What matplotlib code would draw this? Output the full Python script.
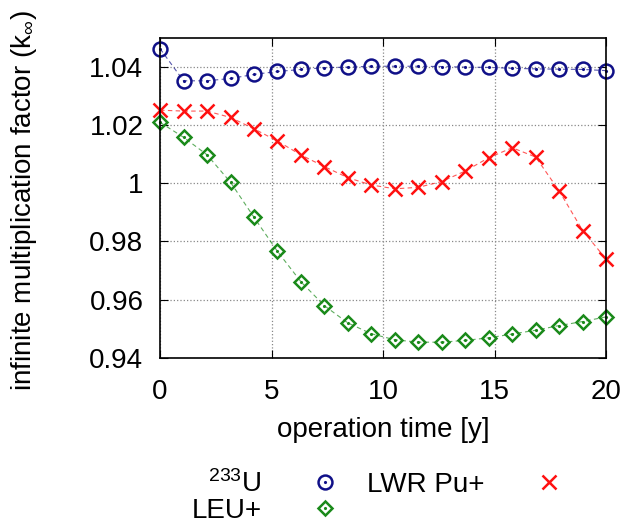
import numpy as np
import matplotlib
matplotlib.use("Agg")
import matplotlib.pyplot as plt
from matplotlib.legend_handler import HandlerTuple
from matplotlib.lines import Line2D

plt.rcParams['font.family'] = ['Liberation Sans', 'DejaVu Sans']
plt.rcParams['mathtext.fontset'] = 'custom'
plt.rcParams['mathtext.rm'] = 'Liberation Sans'
plt.rcParams['mathtext.it'] = 'Liberation Sans'

# data
time_y = [0.0, 1.05, 2.1, 3.16, 4.21, 5.26, 6.32, 7.37, 8.42, 9.47,
          10.53, 11.58, 12.63, 13.68, 14.74, 15.79, 16.84, 17.89, 18.95, 20.0]
u233 = [1.0462, 1.0352, 1.0352, 1.0360, 1.0374, 1.0384, 1.0391, 1.0397, 1.0399, 1.0402,
        1.0402, 1.0402, 1.0401, 1.0399, 1.0398, 1.0395, 1.0393, 1.0392, 1.0391, 1.0387]
lwr_pu = [1.0251, 1.0248, 1.0248, 1.0226, 1.0187, 1.0145, 1.0097, 1.0057, 1.0019, 0.9994,
          0.9981, 0.9986, 1.0006, 1.0042, 1.0088, 1.0122, 1.0090, 0.9974, 0.9837, 0.9739]
leu = [1.0209, 1.0158, 1.0098, 1.0003, 0.9883, 0.9766, 0.9661, 0.9579, 0.9520, 0.9483,
       0.9462, 0.9454, 0.9454, 0.9460, 0.9469, 0.9482, 0.9495, 0.9511, 0.9525, 0.9541]

blue = '#101088'
red = '#ff1010'
green = '#1a8a1a'
fs = 20

fig = plt.figure(figsize=(6.23, 5.24), dpi=100)
ax = fig.add_axes([0.257, 0.317, 0.716, 0.611])

ax.plot(time_y, u233, '--', color=blue, lw=0.8, alpha=0.7, dashes=(4, 3))
ax.plot(time_y, lwr_pu, '--', color=red, lw=0.8, alpha=0.7, dashes=(4, 3))
ax.plot(time_y, leu, '--', color=green, lw=0.8, alpha=0.7, dashes=(4, 3))

ax.plot(time_y, u233, 'o', ms=10, mfc='none', mec=blue, mew=1.8, clip_on=False)
ax.plot(time_y, u233, '.', ms=2.5, color=blue, clip_on=False)
ax.plot(time_y, lwr_pu, 'x', ms=10.5, color=red, mew=1.8, clip_on=False)
ax.plot(time_y, leu, 'D', ms=7, mfc='none', mec=green, mew=1.8, clip_on=False)
ax.plot(time_y, leu, '.', ms=2.5, color=green, clip_on=False)

ax.set_xlim(0, 20)
ax.set_ylim(0.94, 1.05)
ax.set_xticks([0, 5, 10, 15, 20])
ax.set_yticks([0.94, 0.96, 0.98, 1.0, 1.02, 1.04])
ax.set_yticklabels(['0.94', '0.96', '0.98', '1', '1.02', '1.04'])
ax.tick_params(direction='in', top=True, right=True, labelsize=fs, length=6)
ax.tick_params(axis='x', pad=15)
ax.tick_params(axis='y', pad=12)
ax.grid(True, linestyle=':', color='#888888', lw=0.9)
for s in ax.spines.values():
    s.set_linewidth(1.2)

ax.set_xlabel('operation time [y]', fontsize=fs, va='center')
ax.set_ylabel(r'infinite multiplication factor (k$_\infty$)', fontsize=20, va='center')
ax.xaxis.set_label_coords(0.5, -0.225)
ax.yaxis.set_label_coords(-0.305, 0.49)

h_u = (Line2D([], [], ls='none', marker='o', ms=10, mfc='none', mec=blue, mew=1.8),
       Line2D([], [], ls='none', marker='.', ms=2.5, color=blue))
h_leu = (Line2D([], [], ls='none', marker='D', ms=7, mfc='none', mec=green, mew=1.8),
         Line2D([], [], ls='none', marker='.', ms=2.5, color=green))
h_pu = Line2D([], [], ls='none', marker='x', ms=10.5, color=red, mew=1.8)

fig.legend([h_u, h_leu, h_pu], [r'$^{233}$U', 'LEU+', 'LWR Pu+'],
           handler_map={tuple: HandlerTuple(ndivide=1, pad=0)},
           ncol=2, markerfirst=False, frameon=False, fontsize=fs,
           loc='lower center', bbox_to_anchor=(0.605, -0.048),
           handlelength=1.0, columnspacing=1.0, labelspacing=0.0, handletextpad=1.8)

fig.savefig('out.png', dpi=100)
